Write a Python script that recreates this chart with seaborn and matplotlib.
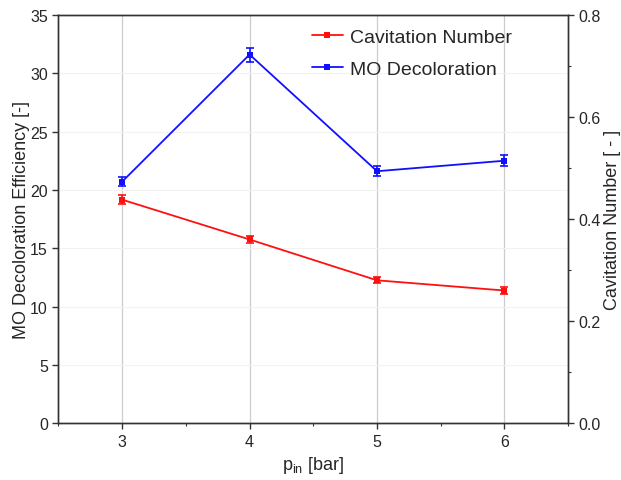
import matplotlib
matplotlib.use("Agg")
import matplotlib.pyplot as plt
import seaborn as sns
import pandas as pd
from matplotlib.ticker import MultipleLocator

pressure = [3, 4, 5, 6]
mo_decoloration = [20.7, 31.6, 21.6, 22.5]
mo_err = [0.4, 0.6, 0.45, 0.45]
cavitation_number = [0.438, 0.360, 0.280, 0.260]
cav_err = [0.009, 0.007, 0.006, 0.006]

sns.set_style("ticks")
plt.rcParams['font.family'] = ['Liberation Sans', 'DejaVu Sans']

fig = plt.figure(figsize=(6.21, 4.81), dpi=100)
ax = fig.add_axes([0.094, 0.118, 0.821, 0.849])
ax2 = ax.twinx()

df_mo = pd.DataFrame({"p": pressure, "v": mo_decoloration})
df_cav = pd.DataFrame({"p": pressure, "v": cavitation_number})

sns.lineplot(data=df_mo, x="p", y="v", ax=ax, color="#1010ff", marker="s",
             markersize=4, markeredgewidth=0, linewidth=1.3, label="MO Decoloration", legend=False)
ax.errorbar(pressure, mo_decoloration, yerr=mo_err, fmt="none", ecolor="#1010ff",
            elinewidth=1.2, capsize=3, capthick=1.2)
sns.lineplot(data=df_cav, x="p", y="v", ax=ax2, color="#ff1010", marker="s",
             markersize=4, markeredgewidth=0, linewidth=1.3, label="Cavitation Number", legend=False)
ax2.errorbar(pressure, cavitation_number, yerr=cav_err, fmt="none", ecolor="#ff1010",
             elinewidth=1.2, capsize=3, capthick=1.2)

ax.set_xlim(2.5, 6.5)
ax.set_ylim(0, 35)
ax2.set_ylim(0, 0.8)
ax.set_xticks(pressure)
ax.xaxis.set_minor_locator(MultipleLocator(0.5))
ax.yaxis.set_major_locator(MultipleLocator(5))
ax2.yaxis.set_major_locator(MultipleLocator(0.2))
ax2.yaxis.set_minor_locator(MultipleLocator(0.1))
ax2.yaxis.set_major_formatter(matplotlib.ticker.FormatStrFormatter('%.1f'))

ax.grid(axis="x", color="#cccccc", linewidth=0.9)
ax.grid(axis="y", color="#f2f2f2", linewidth=0.8)
ax.set_axisbelow(True)

for a in (ax, ax2):
    for s in a.spines.values():
        s.set_color("#333333")
        s.set_linewidth(1.0)
    a.tick_params(axis="both", which="major", labelsize=11.5, length=4, width=1, color="#333333")
    a.tick_params(axis="both", which="minor", length=2.5, width=0.8, color="#333333")

ax.set_xlabel(r"p$_{\mathregular{in}}$ [bar]", fontsize=13)
ax.set_ylabel("MO Decoloration Efficiency [-]", fontsize=13, labelpad=0)
ax2.set_ylabel("Cavitation Number [ - ]", fontsize=13, labelpad=2)

h1, l1 = ax.get_legend_handles_labels()
h2, l2 = ax2.get_legend_handles_labels()
ax2.legend(h2 + h1, l2 + l1, loc="upper left", bbox_to_anchor=(0.47, 1.0), frameon=False,
           fontsize=14, handlelength=1.6, handletextpad=0.35, labelspacing=0.75,
           borderaxespad=0.3)

fig.savefig("out.png", dpi=100)
